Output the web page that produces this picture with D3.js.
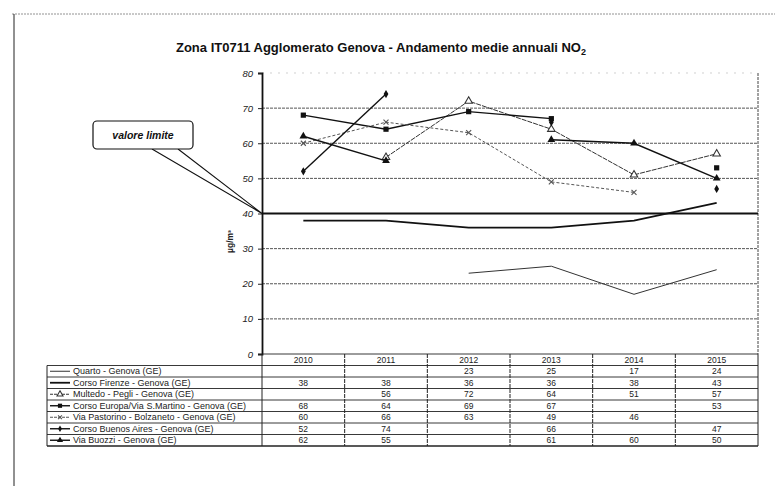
<!DOCTYPE html>
<html><head><meta charset="utf-8">
<script src="https://cdn.jsdelivr.net/npm/d3@7"></script>
<style>body{margin:0;background:#fff}svg{display:block}text{font-family:"Liberation Sans",Arial,sans-serif}</style>
</head><body><svg id="c" width="775" height="486"></svg>
<script>
const years = ["2010","2011","2012","2013","2014","2015"];
const yTicks = [0,10,20,30,40,50,60,70,80];
const stations = ["Quarto - Genova (GE)","Corso Firenze - Genova (GE)","Multedo - Pegli - Genova (GE)","Corso Europa/Via S.Martino - Genova (GE)","Via Pastorino - Bolzaneto - Genova (GE)","Corso Buenos Aires - Genova (GE)","Via Buozzi - Genova (GE)"];
const quarto   = [null,null,23,25,17,24];
const firenze  = [38,38,36,36,38,43];
const multedo  = [null,56,72,64,51,57];
const europa   = [68,64,69,67,null,53];
const pastorino= [60,66,63,49,46,null];
const buenos   = [52,74,null,66,null,47];
const buozzi   = [62,55,null,61,60,50];
const limitValue = 40;
const title = "Zona IT0711 Agglomerato Genova - Andamento medie annuali NO";
const yLabel = "µg/m³";
const calloutText = "valore limite";

const seriesData = [quarto,firenze,multedo,europa,pastorino,buenos,buozzi];
const styles = [
  {w:1, dash:null, col:"#333", marker:null},
  {w:1.8, dash:null, col:"#111", marker:null},
  {w:1, dash:"5,1", col:"#333", marker:"triangleOpen"},
  {w:1.4, dash:null, col:"#111", marker:"square"},
  {w:1, dash:"3,2", col:"#555", marker:"star"},
  {w:1.4, dash:null, col:"#111", marker:"diamond"},
  {w:1.4, dash:null, col:"#111", marker:"triangle"}
];

const svg = d3.select("#c");
const L=262, R=758, T=73, B=354;
const x = d3.scaleBand().domain(years).range([L,R]);
const y = d3.scaleLinear().domain([0,80]).range([B,T]);

// outer border
svg.append("line").attr("x1",12).attr("y1",14).attr("x2",775).attr("y2",14).attr("stroke","#777").attr("stroke-dasharray","2,1").attr("stroke-width",0.8);
svg.append("line").attr("x1",14).attr("y1",14).attr("x2",14).attr("y2",486).attr("stroke","#222").attr("stroke-width",1);

// title
const tt = svg.append("text").attr("x",381).attr("y",52).attr("text-anchor","middle").attr("font-size",13).attr("font-weight","bold").attr("fill","#111");
tt.append("tspan").text(title);
tt.append("tspan").attr("font-size",9).attr("dy",3).text("2");

// grid
svg.append("g").selectAll("line").data(yTicks.filter(d=>d>0 && d!==limitValue)).join("line")
  .attr("x1",L).attr("x2",R).attr("y1",d=>y(d)).attr("y2",d=>y(d))
  .attr("stroke",d=>d===80?"#bbb":"#555").attr("stroke-width",d=>d===80?0.7:1)
  .attr("stroke-dasharray",d=>d===80?"2,6":"3,1");
// right border
svg.append("line").attr("x1",R).attr("x2",R).attr("y1",T).attr("y2",B).attr("stroke","#444").attr("stroke-dasharray","3,1");

// y axis
const ya = svg.append("g").attr("transform",`translate(${L},0)`).call(d3.axisLeft(y).tickValues(yTicks).tickSize(4).tickFormat(d3.format("d")));
ya.select(".domain").attr("stroke","#111").attr("stroke-width",1.8);
ya.selectAll("text").attr("font-size",9.5).attr("fill","#222").attr("font-style","italic").attr("x",-9);
ya.selectAll(".tick line").attr("stroke","#222");

svg.append("text").attr("transform",`translate(233,${(T+B)/2+28}) rotate(-90)`).attr("text-anchor","middle").attr("font-size",8.5).attr("font-weight","bold").attr("fill","#222").text(yLabel);

// limit line
svg.append("line").attr("x1",L).attr("x2",R).attr("y1",y(limitValue)).attr("y2",y(limitValue)).attr("stroke","#111").attr("stroke-width",2);

// callout
const tip=[L,y(limitValue)];
svg.append("path").attr("d",`M152,149 L${tip[0]},${tip[1]} L178,149`).attr("fill","none").attr("stroke","#111").attr("stroke-width",1.1);
svg.append("rect").attr("x",93).attr("y",121).attr("width",100).attr("height",28).attr("rx",4).attr("fill","#fff").attr("stroke","#111").attr("stroke-width",1.2);
svg.append("text").attr("x",143).attr("y",139).attr("text-anchor","middle").attr("font-size",10.5).attr("font-style","italic").attr("font-weight","bold").attr("fill","#111").text(calloutText);

// series
const cx = i => x(years[i]) + x.bandwidth()/2;
function drawMarker(g, type, px, py, col, s){
  s = s||1;
  if(!type) return;
  if(type==="square") g.append("rect").attr("x",px-2.6*s).attr("y",py-2.6*s).attr("width",5.2*s).attr("height",5.2*s).attr("fill",col);
  else if(type==="triangle") g.append("path").attr("d",d3.symbol(d3.symbolTriangle,26*s*s)()).attr("transform",`translate(${px},${py})`).attr("fill",col);
  else if(type==="triangleOpen") g.append("path").attr("d",d3.symbol(d3.symbolTriangle,24*s*s)()).attr("transform",`translate(${px},${py})`).attr("fill","#fff").attr("stroke",col).attr("stroke-width",1.1);
  else if(type==="diamond") g.append("path").attr("d",d3.symbol(d3.symbolDiamond,20*s*s)()).attr("transform",`translate(${px},${py})`).attr("fill",col);
  else if(type==="star") g.append("path").attr("d",d3.symbol(d3.symbolTimes,18*s*s)()).attr("transform",`translate(${px},${py})`).attr("fill","none").attr("stroke",col).attr("stroke-width",1.1);
}
const gS = svg.append("g");
seriesData.forEach((vals,si)=>{
  const st = styles[si];
  const line = d3.line().defined(d=>d!=null).x((d,i)=>cx(i)).y(d=>y(d));
  gS.append("path").attr("d",line(vals)).attr("fill","none").attr("stroke",st.col).attr("stroke-width",st.w).attr("stroke-dasharray",st.dash);
  vals.forEach((v,i)=>{ if(v!=null) drawMarker(gS, st.marker, cx(i), y(v), st.col); });
});

// table
const tL=47, rowH=11.5, tTop=B;
const nRows = stations.length+1;
const tg = svg.append("g");
for(let r=0;r<=nRows;r++){
  const yy = tTop + r*rowH;
  tg.append("line").attr("x1",r===0?L:tL).attr("x2",R).attr("y1",yy).attr("y2",yy).attr("stroke","#222").attr("stroke-width",r===nRows?1.3:0.9);
}
tg.append("line").attr("x1",tL).attr("x2",tL).attr("y1",tTop+rowH).attr("y2",tTop+nRows*rowH).attr("stroke","#222");
tg.append("line").attr("x1",L).attr("x2",L).attr("y1",tTop).attr("y2",tTop+nRows*rowH).attr("stroke","#222");
years.forEach((yr,i)=>{
  const xr = x(yr)+x.bandwidth();
  tg.append("line").attr("x1",xr).attr("x2",xr).attr("y1",tTop).attr("y2",tTop+nRows*rowH).attr("stroke","#222").attr("stroke-dasharray",i===years.length-1?null:"4,1");
  tg.append("text").attr("x",cx(i)).attr("y",tTop+rowH*0.5+3.2).attr("text-anchor","middle").attr("font-size",8.5).attr("fill","#222").text(yr);
});
stations.forEach((name,si)=>{
  const yc = tTop + rowH*(si+1) + rowH/2;
  const st = styles[si];
  tg.append("line").attr("x1",50).attr("x2",70).attr("y1",yc).attr("y2",yc).attr("stroke",st.col).attr("stroke-width",st.w).attr("stroke-dasharray",st.dash?"3,1":null);
  drawMarker(tg, st.marker, 60, yc, st.col, 0.8);
  tg.append("text").attr("x",73).attr("y",yc+3.2).attr("font-size",9).attr("fill","#222").text(name);
  seriesData[si].forEach((v,i)=>{
    if(v!=null) tg.append("text").attr("x",cx(i)).attr("y",yc+3.2).attr("text-anchor","middle").attr("font-size",8.5).attr("fill","#222").text(v);
  });
});
</script></body></html>
